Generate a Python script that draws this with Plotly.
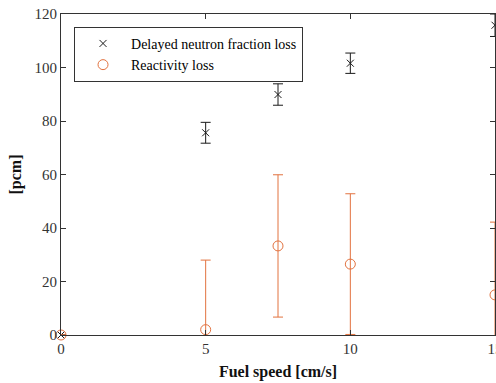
import plotly.graph_objects as go

speed = [0, 5, 7.5, 10, 15]
dnf_loss = [0, 75.6, 89.9, 101.6, 115.8]
dnf_err = [0, 3.9, 4.0, 3.8, 4.2]
react_loss = [0, 2.0, 33.3, 26.5, 15.0]
react_err = [0, 26.0, 26.6, 26.3, 27.2]

x_ticks = [0, 5, 10, 15]
y_ticks = [0, 20, 40, 60, 80, 100, 120]

black = "#1a1a1a"
orange = "#E2723F"
axis_col = "#333333"
font = "Liberation Serif"

fig = go.Figure()

fig.add_trace(go.Scatter(
    x=speed, y=dnf_loss, mode="markers", name="Delayed neutron fraction loss",
    marker=dict(symbol="x-thin-open", size=7, color=black, line=dict(color=black, width=1)),
    error_y=dict(type="data", array=dnf_err, visible=True, color=black, thickness=1, width=5),
    cliponaxis=False,
))
fig.add_trace(go.Scatter(
    x=speed, y=react_loss, mode="markers", name="Reactivity loss",
    marker=dict(symbol="circle-open", size=10, color=orange, line=dict(color=orange, width=1)),
    error_y=dict(type="data", array=react_err, visible=True, color=orange, thickness=1, width=5),
    cliponaxis=False,
))

axis_common = dict(
    showgrid=False, zeroline=False, showline=True, linecolor=axis_col, linewidth=1,
    mirror="ticks", ticks="inside", ticklen=5, tickcolor=axis_col, tickwidth=1,
    tickfont=dict(family=font, size=15, color=axis_col),
    ticklabeloverflow="allow", automargin=False,
)

fig.update_xaxes(range=[0, 15], tickvals=x_ticks,
                 title=dict(text="<b>Fuel speed [cm/s]</b>", font=dict(family=font, size=16, color="#111111"), standoff=9),
                 **axis_common)
fig.update_yaxes(range=[0, 120], tickvals=y_ticks,
                 title=dict(text="<b>[pcm]</b>", font=dict(family=font, size=16, color="#111111"), standoff=8),
                 **axis_common)

fig.update_layout(
    width=496, height=383,
    margin=dict(l=61, r=1, t=14, b=48, autoexpand=False),
    paper_bgcolor="white", plot_bgcolor="white",
    showlegend=True,
    legend=dict(x=0.03, y=0.96, xanchor="left", yanchor="top",
                bgcolor="white", bordercolor=axis_col, borderwidth=1,
                font=dict(family=font, size=14, color="#000000"),
                itemwidth=46, tracegroupgap=0),
)

fig.write_html("out.html")
